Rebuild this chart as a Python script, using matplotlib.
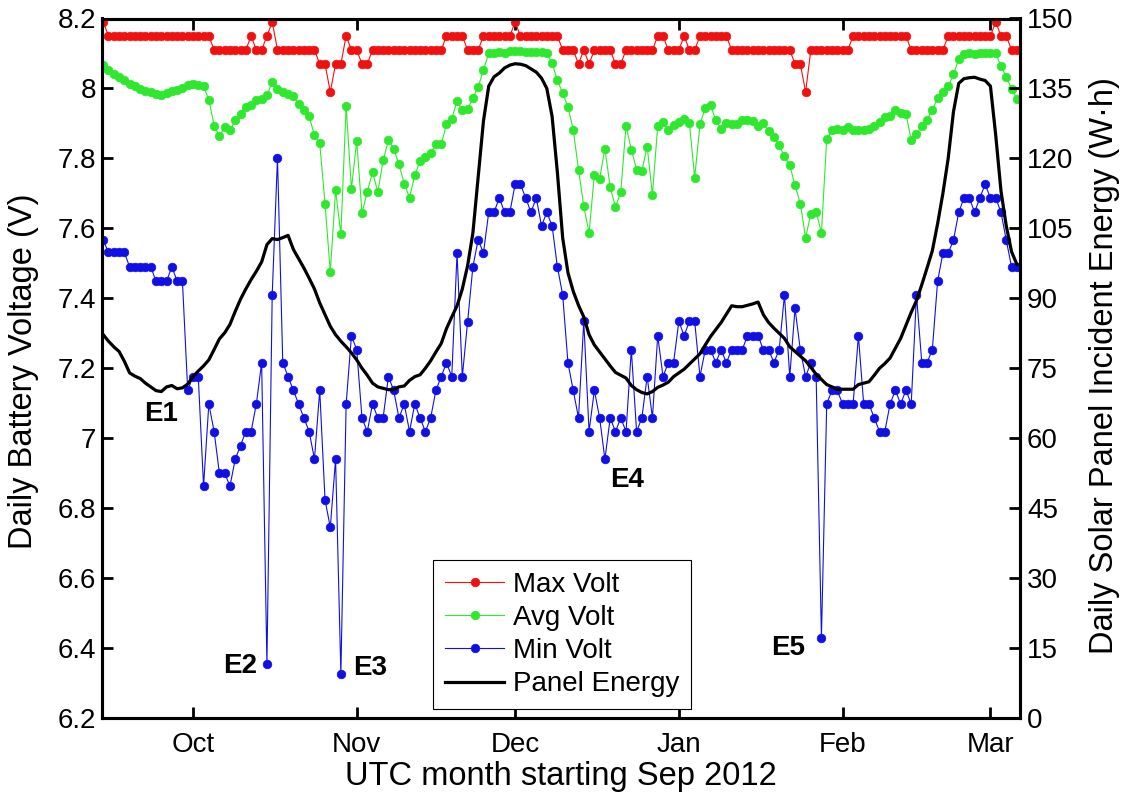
import numpy as np
import matplotlib
matplotlib.use("Agg")
import matplotlib.pyplot as plt
import matplotlib.dates as mdates
import datetime as dt

plt.rcParams['font.family'] = ['Liberation Sans', 'DejaVu Sans']

# ---------------- data (one value per day, 14 Sep 2012 .. 6 Mar 2013) ----------------
start_day = '2012-09-14'
end_day = '2013-03-07'   # exclusive

max_volt = [
    8.19, 8.15, 8.15, 8.15, 8.15, 8.15, 8.15,
    8.15, 8.15, 8.15, 8.15, 8.15, 8.15, 8.15,
    8.15, 8.15, 8.15, 8.15, 8.15, 8.15, 8.15,
    8.11, 8.11, 8.11, 8.11, 8.11, 8.11, 8.11,
    8.15, 8.11, 8.11, 8.15, 8.19, 8.11, 8.11,
    8.11, 8.11, 8.11, 8.11, 8.11, 8.11, 8.07,
    8.07, 7.99, 8.07, 8.07, 8.15, 8.11, 8.11,
    8.07, 8.07, 8.11, 8.11, 8.11, 8.11, 8.11,
    8.11, 8.11, 8.11, 8.11, 8.11, 8.11, 8.11,
    8.11, 8.11, 8.15, 8.15, 8.15, 8.15, 8.11,
    8.11, 8.11, 8.15, 8.15, 8.15, 8.15, 8.15,
    8.15, 8.19, 8.15, 8.15, 8.15, 8.15, 8.15,
    8.15, 8.15, 8.15, 8.11, 8.11, 8.11, 8.07,
    8.11, 8.07, 8.11, 8.11, 8.11, 8.11, 8.07,
    8.07, 8.11, 8.11, 8.11, 8.11, 8.11, 8.11,
    8.15, 8.15, 8.11, 8.11, 8.11, 8.15, 8.11,
    8.11, 8.15, 8.15, 8.15, 8.15, 8.15, 8.15,
    8.11, 8.11, 8.11, 8.11, 8.11, 8.11, 8.11,
    8.11, 8.11, 8.11, 8.11, 8.11, 8.07, 8.07,
    7.99, 8.11, 8.11, 8.11, 8.11, 8.11, 8.11,
    8.11, 8.11, 8.15, 8.15, 8.15, 8.15, 8.15,
    8.15, 8.15, 8.15, 8.15, 8.15, 8.15, 8.11,
    8.11, 8.11, 8.11, 8.11, 8.11, 8.11, 8.15,
    8.15, 8.15, 8.15, 8.15, 8.15, 8.15, 8.15,
    8.15, 8.19, 8.15, 8.15, 8.11, 8.11,
]

avg_volt = [
    8.066, 8.052, 8.042, 8.033, 8.023, 8.013, 8.006,
    7.999, 7.994, 7.990, 7.985, 7.980, 7.987, 7.992,
    7.996, 8.002, 8.009, 8.012, 8.009, 8.006, 7.968,
    7.894, 7.863, 7.890, 7.880, 7.909, 7.928, 7.947,
    7.952, 7.966, 7.971, 7.980, 8.018, 7.999, 7.990,
    7.985, 7.977, 7.956, 7.937, 7.920, 7.866, 7.844,
    7.671, 7.475, 7.709, 7.583, 7.949, 7.713, 7.850,
    7.644, 7.704, 7.761, 7.704, 7.794, 7.852, 7.828,
    7.783, 7.728, 7.688, 7.752, 7.793, 7.804, 7.815,
    7.840, 7.840, 7.897, 7.913, 7.964, 7.937, 7.942,
    7.973, 8.004, 8.053, 8.101, 8.101, 8.104, 8.101,
    8.106, 8.107, 8.107, 8.104, 8.104, 8.104, 8.104,
    8.101, 8.073, 8.023, 7.987, 7.947, 7.882, 7.768,
    7.663, 7.587, 7.752, 7.742, 7.828, 7.718, 7.661,
    7.704, 7.894, 7.825, 7.768, 7.764, 7.834, 7.696,
    7.894, 7.904, 7.882, 7.896, 7.904, 7.913, 7.901,
    7.745, 7.897, 7.945, 7.952, 7.909, 7.885, 7.901,
    7.897, 7.899, 7.911, 7.909, 7.907, 7.892, 7.901,
    7.878, 7.861, 7.837, 7.806, 7.780, 7.723, 7.671,
    7.573, 7.642, 7.647, 7.587, 7.856, 7.880, 7.885,
    7.882, 7.890, 7.882, 7.880, 7.880, 7.885, 7.894,
    7.904, 7.918, 7.920, 7.939, 7.930, 7.928, 7.853,
    7.871, 7.892, 7.911, 7.939, 7.973, 7.990, 8.006,
    8.040, 8.085, 8.099, 8.101, 8.099, 8.101, 8.101,
    8.101, 8.101, 8.063, 8.033, 7.999, 7.971,
]

min_volt = [
    7.566, 7.531, 7.531, 7.531, 7.531, 7.490, 7.490,
    7.490, 7.490, 7.490, 7.449, 7.449, 7.449, 7.490,
    7.449, 7.449, 7.137, 7.176, 7.176, 6.863, 7.098,
    7.019, 6.900, 6.900, 6.863, 6.940, 6.979, 7.019,
    7.019, 7.098, 7.216, 6.354, 7.410, 7.802, 7.216,
    7.176, 7.137, 7.098, 7.058, 7.019, 6.940, 7.137,
    6.824, 6.745, 6.940, 6.327, 7.098, 7.293, 7.253,
    7.058, 7.019, 7.098, 7.058, 7.058, 7.176, 7.137,
    7.058, 7.098, 7.019, 7.098, 7.058, 7.019, 7.058,
    7.137, 7.176, 7.216, 7.176, 7.529, 7.176, 7.332,
    7.490, 7.568, 7.529, 7.646, 7.646, 7.687, 7.646,
    7.646, 7.726, 7.726, 7.687, 7.646, 7.687, 7.607,
    7.646, 7.607, 7.490, 7.410, 7.216, 7.137, 7.058,
    7.334, 7.019, 7.137, 7.058, 6.940, 7.058, 7.019,
    7.058, 7.019, 7.253, 7.019, 7.058, 7.176, 7.058,
    7.293, 7.176, 7.216, 7.216, 7.334, 7.293, 7.334,
    7.334, 7.176, 7.253, 7.253, 7.216, 7.253, 7.216,
    7.253, 7.253, 7.253, 7.293, 7.293, 7.293, 7.253,
    7.253, 7.216, 7.253, 7.410, 7.176, 7.371, 7.253,
    7.176, 7.216, 7.176, 6.430, 7.098, 7.137, 7.137,
    7.098, 7.098, 7.098, 7.293, 7.098, 7.098, 7.058,
    7.019, 7.019, 7.098, 7.137, 7.098, 7.137, 7.098,
    7.410, 7.216, 7.216, 7.253, 7.449, 7.529, 7.529,
    7.566, 7.646, 7.687, 7.687, 7.646, 7.687, 7.726,
    7.687, 7.687, 7.646, 7.566, 7.490, 7.490,
]

panel_energy = [
    82.2, 80.8, 79.6, 78.6, 76.5, 74.0, 73.3,
    72.8, 71.8, 71.0, 70.2, 70.0, 71.0, 71.3,
    70.6, 70.8, 71.6, 73.2, 74.4, 75.5, 76.8,
    79.0, 81.3, 82.6, 84.4, 87.2, 89.8, 92.0,
    94.0, 95.8, 97.8, 101.5, 102.8, 102.6, 103.0,
    103.5, 100.5, 98.5, 96.5, 94.3, 92.0, 89.0,
    86.5, 84.0, 82.2, 80.8, 79.6, 78.3, 76.8,
    75.0, 73.5, 71.8, 71.0, 70.7, 70.4, 70.4,
    71.0, 71.2, 72.4, 73.2, 73.6, 75.0, 76.6,
    78.5, 80.3, 83.5, 86.0, 88.4, 92.0, 97.0,
    104.0, 116.0, 128.0, 135.5, 137.5, 138.3, 139.4,
    140.0, 140.3, 140.2, 139.9, 139.2, 138.5, 137.2,
    135.0, 129.0, 117.0, 103.0, 95.5, 91.5, 88.5,
    86.0, 82.2, 80.0, 78.5, 77.0, 75.5, 74.1,
    73.5, 72.9, 71.3, 70.4, 69.8, 69.5, 70.0,
    70.9, 71.4, 72.0, 73.2, 74.0, 74.8, 75.9,
    77.0, 78.1, 80.0, 81.8, 83.3, 84.8, 86.6,
    88.4, 88.2, 88.2, 88.5, 88.8, 89.2, 86.5,
    84.8, 83.6, 82.5, 81.4, 79.6, 78.6, 77.6,
    76.6, 75.2, 73.7, 72.6, 71.5, 71.0, 70.5,
    70.5, 70.5, 70.5, 71.5, 71.8, 72.1, 73.5,
    75.0, 76.0, 77.2, 79.3, 81.4, 84.2, 87.0,
    89.5, 92.9, 96.5, 100.2, 106.0, 112.5, 120.0,
    130.0, 136.1, 137.1, 137.3, 137.4, 137.0, 136.7,
    135.5, 125.0, 113.0, 105.5, 100.0, 97.3,
]

month_ticks = ['2012-10-01', '2012-11-01', '2012-12-01', '2013-01-01', '2013-02-01', '2013-03-01']
month_labels = ['Oct', 'Nov', 'Dec', 'Jan', 'Feb', 'Mar']
volt_ticks = [6.2, 6.4, 6.6, 6.8, 7.0, 7.2, 7.4, 7.6, 7.8, 8.0, 8.2]
volt_labels = ['6.2', '6.4', '6.6', '6.8', '7', '7.2', '7.4', '7.6', '7.8', '8', '8.2']
energy_ticks = [0, 15, 30, 45, 60, 75, 90, 105, 120, 135, 150]

events = ['E1', 'E2', 'E3', 'E4', 'E5']
event_dates = ['2012-09-25T00', '2012-10-09T22', '2012-11-03T12', '2012-12-22T05', '2013-01-21T17']
event_volts = [7.069, 6.349, 6.343, 6.881, 6.400]

# ---------------- plotting ----------------
days = np.arange(np.datetime64(start_day), np.datetime64(end_day)).astype('datetime64[s]').astype(object)
assert len(days) == len(max_volt) == len(avg_volt) == len(min_volt) == len(panel_energy)

fig = plt.figure(figsize=(11.28, 7.97), dpi=100)
ax = fig.add_axes([102 / 1128, 79 / 797, 918 / 1128, 699.5 / 797])
ax2 = ax.twinx()

red, green, blue = '#f01010', '#2ee82e', '#1010e6'
mk = dict(lw=0.8, ms=6.3, mew=0.4)
l1, = ax.plot(days, max_volt, '-o', color=red, mec=red, label='Max Volt', **mk)
l2, = ax.plot(days, avg_volt, '-o', color=green, mec=green, label='Avg Volt', **mk)
l3, = ax.plot(days, min_volt, '-o', color=blue, mec=blue, label='Min Volt', **mk)
l4, = ax2.plot(days, panel_energy, '-', color='black', lw=2.3, label='Panel Energy')

oct1 = mdates.date2num(dt.datetime(2012, 10, 1))
ax.set_xlim(oct1 - 17.23, oct1 + 156.6)
ax.set_ylim(6.2, 8.2)
ax2.set_ylim(0, 150)

ax.set_xticks([mdates.date2num(np.datetime64(m).astype('datetime64[s]').astype(object)) for m in month_ticks])
ax.set_xticklabels(month_labels)
ax.set_yticks(volt_ticks)
ax.set_yticklabels(volt_labels)
ax2.set_yticks(energy_ticks)
ax2.set_yticklabels([str(v) for v in energy_ticks])

ax.tick_params(axis='x', which='both', direction='in', top=True, bottom=True,
               length=8, width=2, labelsize=20, pad=10)
ax.tick_params(axis='y', direction='in', left=True, right=False, length=8, width=2,
               labelsize=20, pad=4)
ax2.tick_params(axis='y', direction='in', right=True, length=8, width=2, labelsize=20, pad=5)
for a in (ax, ax2):
    for s in a.spines.values():
        s.set_linewidth(2.2)

fig.text(0.5 * (102 + 1020) / 1128, 1 - 777 / 797, 'UTC month starting Sep 2012',
         ha='center', va='center', fontsize=23.5)
fig.text(24 / 1128, 1 - 371 / 797, 'Daily Battery Voltage (V)', rotation=90,
         ha='center', va='center', fontsize=23.5)
fig.text(1105 / 1128, 1 - 366 / 797, 'Daily Solar Panel Incident Energy (W\u00b7h)', rotation=90,
         ha='center', va='center', fontsize=23.5)

for name, d, v in zip(events, event_dates, event_volts):
    ax.text(mdates.date2num(np.datetime64(d).astype('datetime64[s]').astype(object)), v, name,
            fontsize=20, fontweight='bold', ha='center', va='center', zorder=5)

leg = ax2.legend([l1, l2, l3, l4], ['Max Volt', 'Avg Volt', 'Min Volt', 'Panel Energy'],
                 loc='lower left', bbox_to_anchor=(0.3606, 0.0129), borderaxespad=0,
                 fontsize=20, numpoints=1, handlelength=2.15, handletextpad=0.3,
                 labelspacing=0.26, borderpad=0.42, fancybox=False, framealpha=1)
leg.get_frame().set_edgecolor('black')
leg.get_frame().set_linewidth(0.8)

fig.savefig('out.png', dpi=100)
